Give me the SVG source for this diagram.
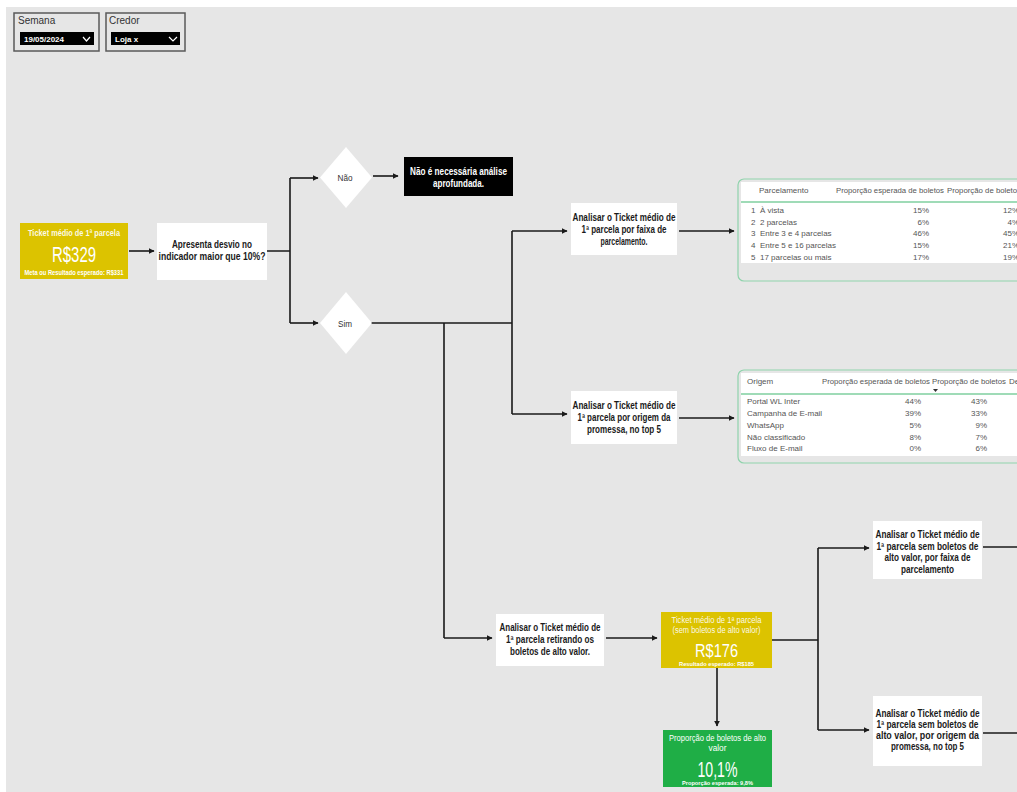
<svg xmlns="http://www.w3.org/2000/svg" width="1017" height="792" viewBox="0 0 1017 792">
<defs>
<marker id="ah" viewBox="0 0 10 10" refX="9" refY="5" markerWidth="6" markerHeight="6" orient="auto" markerUnits="userSpaceOnUse">
<path d="M0,0 L10,5 L0,10 z" fill="#1a1a1a"/>
</marker>
<style>
text{font-family:"Liberation Sans",Arial,sans-serif;}
.b{font-weight:bold;font-size:10px;fill:#1a1a1a;text-anchor:middle;}
.wb{font-weight:bold;font-size:10px;fill:#ffffff;text-anchor:middle;}
.k{fill:#ffffff;text-anchor:middle;}
.ln{stroke:#1a1a1a;stroke-width:1.6;fill:none;}
.tb{font-size:8px;fill:#555;}
.r{text-anchor:end;}
.box{fill:#ffffff;}
</style>
</defs>
<rect x="0" y="0" width="1017" height="792" fill="#ffffff"/>
<rect x="6" y="7" width="1011" height="785" fill="#e6e6e6"/>

<g id="slicer-semana">
<rect x="14" y="13" width="85" height="38" fill="#e6e6e6" stroke="#5a5a5a" stroke-width="1.5"/>
<text x="18" y="24" font-size="10" fill="#333">Semana</text>
<rect x="20" y="32" width="74" height="13" fill="#000"/>
<text x="24" y="42" font-size="8" font-weight="bold" fill="#fff" textLength="40" lengthAdjust="spacingAndGlyphs">19/05/2024</text>
<path d="M83,37 L86.5,41 L90,37" stroke="#fff" stroke-width="1.2" fill="none"/>
</g>
<g id="slicer-credor">
<rect x="106" y="13" width="79" height="38" fill="#e6e6e6" stroke="#5a5a5a" stroke-width="1.5"/>
<text x="109" y="24" font-size="10" fill="#333">Credor</text>
<rect x="111" y="32" width="69" height="13" fill="#000"/>
<text x="115" y="42" font-size="8" font-weight="bold" fill="#fff">Loja x</text>
<path d="M169,37 L173,41 L177,37" stroke="#fff" stroke-width="1.2" fill="none"/>
</g>

<g id="connectors">
<path class="ln" d="M129,251 L154,251" marker-end="url(#ah)"/>
<path class="ln" d="M267,251 L290,251 M290,178 L290,323"/>
<path class="ln" d="M290,178 L318,178" marker-end="url(#ah)"/>
<path class="ln" d="M290,323 L318,323" marker-end="url(#ah)"/>
<path class="ln" d="M373,176 L398,176" marker-end="url(#ah)"/>
<path class="ln" d="M371,323 L512,323 M512,231 L512,414 M444,323 L444,638"/>
<path class="ln" d="M512,231 L567,231" marker-end="url(#ah)"/>
<path class="ln" d="M512,414 L567,414" marker-end="url(#ah)"/>
<path class="ln" d="M679,231 L734,231" marker-end="url(#ah)"/>
<path class="ln" d="M679,418 L734,418" marker-end="url(#ah)"/>
<path class="ln" d="M444,638 L492,638" marker-end="url(#ah)"/>
<path class="ln" d="M606,638 L657,638" marker-end="url(#ah)"/>
<path class="ln" d="M772,640 L818,640 M818,548 L818,730"/>
<path class="ln" d="M818,548 L869,548" marker-end="url(#ah)"/>
<path class="ln" d="M818,730 L869,730" marker-end="url(#ah)"/>
<path class="ln" d="M717,668 L717,726" marker-end="url(#ah)"/>
<path class="ln" d="M983,547 L1017,547"/>
<path class="ln" d="M983,733 L1017,733"/>
</g>

<g id="kpi-ticket">
<rect x="20" y="223" width="108" height="56" fill="#dcc300"/>
<text class="k" x="74" y="236" font-size="9.5" font-weight="bold" fill-opacity="0.92" textLength="92" lengthAdjust="spacingAndGlyphs">Ticket médio de 1ª parcela</text>
<text class="k" x="74" y="262" font-size="22" textLength="44" lengthAdjust="spacingAndGlyphs">R$329</text>
<text class="k" x="74" y="275" font-size="6.5" font-weight="bold" textLength="99" lengthAdjust="spacingAndGlyphs">Meta ou Resultado esperado: R$331</text>
</g>

<g id="q-desvio">
<rect class="box" x="157" y="223" width="110" height="57"/>
<text class="b" x="212" y="248" textLength="80" lengthAdjust="spacingAndGlyphs">Apresenta desvio no</text>
<text class="b" x="212" y="260" textLength="107" lengthAdjust="spacingAndGlyphs">indicador maior que 10%?</text>
</g>

<g id="d-nao">
<path d="M346,147 L372,177.5 L346,208 L320,177.5 z" fill="#ffffff"/>
<text x="345" y="181" font-size="9" fill="#333" text-anchor="middle" textLength="15" lengthAdjust="spacingAndGlyphs">Não</text>
</g>
<g id="d-sim">
<path d="M346,292 L372,323 L346,354 L320,323 z" fill="#ffffff"/>
<text x="345" y="327" font-size="9" fill="#333" text-anchor="middle" textLength="14" lengthAdjust="spacingAndGlyphs">Sim</text>
</g>

<g id="n-nao-analise">
<rect x="404" y="157" width="109" height="39" fill="#000"/>
<text class="wb" x="458.5" y="175" textLength="97" lengthAdjust="spacingAndGlyphs">Não é necessária análise</text>
<text class="wb" x="458.5" y="187" textLength="51" lengthAdjust="spacingAndGlyphs">aprofundada.</text>
</g>

<g id="n-faixa">
<rect class="box" x="571" y="203" width="106" height="52"/>
<text class="b" x="624" y="221" textLength="103" lengthAdjust="spacingAndGlyphs">Analisar o Ticket médio de</text>
<text class="b" x="624" y="233" textLength="85" lengthAdjust="spacingAndGlyphs">1ª parcela por faixa de</text>
<text class="b" x="624" y="245" textLength="47" lengthAdjust="spacingAndGlyphs">parcelamento.</text>
</g>

<g id="n-origem">
<rect class="box" x="571" y="391" width="106" height="53"/>
<text class="b" x="624" y="408.5" textLength="103" lengthAdjust="spacingAndGlyphs">Analisar o Ticket médio de</text>
<text class="b" x="624" y="420.5" textLength="93" lengthAdjust="spacingAndGlyphs">1ª parcela por origem da</text>
<text class="b" x="624" y="432.5" textLength="74" lengthAdjust="spacingAndGlyphs">promessa, no top 5</text>
</g>

<g id="table-parcelamento">
<rect x="738" y="179" width="290" height="102" rx="6" fill="#e6e6e6" stroke="#8fd3ac" stroke-width="1.2"/>
<rect x="741" y="182" width="276" height="81" fill="#ffffff"/>
<line x1="741" y1="202" x2="1017" y2="202" stroke="#7fcf9f" stroke-width="1.5"/>
<text class="tb" x="759" y="193">Parcelamento</text>
<text class="tb" x="836" y="193" textLength="108" lengthAdjust="spacingAndGlyphs">Proporção esperada de boletos</text>
<text class="tb" x="947" y="193" textLength="74" lengthAdjust="spacingAndGlyphs">Proporção de boletos</text>
<text class="tb" x="751" y="213">1</text><text class="tb" x="760" y="213">À vista</text><text class="tb r" x="929" y="213">15%</text><text class="tb r" x="1019" y="213">12%</text>
<text class="tb" x="751" y="225">2</text><text class="tb" x="760" y="225">2 parcelas</text><text class="tb r" x="929" y="225">6%</text><text class="tb r" x="1019" y="225">4%</text>
<text class="tb" x="751" y="236">3</text><text class="tb" x="760" y="236">Entre 3 e 4 parcelas</text><text class="tb r" x="929" y="236">46%</text><text class="tb r" x="1019" y="236">45%</text>
<text class="tb" x="751" y="248">4</text><text class="tb" x="760" y="248">Entre 5 e 16 parcelas</text><text class="tb r" x="929" y="248">15%</text><text class="tb r" x="1019" y="248">21%</text>
<text class="tb" x="751" y="260">5</text><text class="tb" x="760" y="260">17 parcelas ou mais</text><text class="tb r" x="929" y="260">17%</text><text class="tb r" x="1019" y="260">19%</text>
</g>

<g id="table-origem">
<rect x="738" y="370" width="290" height="93" rx="6" fill="#e6e6e6" stroke="#8fd3ac" stroke-width="1.2"/>
<rect x="741" y="373" width="276" height="83" fill="#ffffff"/>
<line x1="741" y1="394" x2="1017" y2="394" stroke="#7fcf9f" stroke-width="1.5"/>
<text class="tb" x="747" y="384">Origem</text>
<text class="tb" x="822" y="384" textLength="108" lengthAdjust="spacingAndGlyphs">Proporção esperada de boletos</text>
<text class="tb" x="932" y="384" textLength="74" lengthAdjust="spacingAndGlyphs">Proporção de boletos</text>
<text class="tb" x="1009" y="384">De</text>
<path d="M933,389 L938,389 L935.5,392 z" fill="#333"/>
<text class="tb" x="747" y="404">Portal WL Inter</text><text class="tb r" x="921" y="404">44%</text><text class="tb r" x="987" y="404">43%</text>
<text class="tb" x="747" y="416">Campanha de E-mail</text><text class="tb r" x="921" y="416">39%</text><text class="tb r" x="987" y="416">33%</text>
<text class="tb" x="747" y="428">WhatsApp</text><text class="tb r" x="921" y="428">5%</text><text class="tb r" x="987" y="428">9%</text>
<text class="tb" x="747" y="440">Não classificado</text><text class="tb r" x="921" y="440">8%</text><text class="tb r" x="987" y="440">7%</text>
<text class="tb" x="747" y="451">Fluxo de E-mail</text><text class="tb r" x="921" y="451">0%</text><text class="tb r" x="987" y="451">6%</text>
</g>

<g id="n-retirando">
<rect class="box" x="496" y="614" width="108" height="52"/>
<text class="b" x="550" y="630.5" textLength="101" lengthAdjust="spacingAndGlyphs">Analisar o Ticket médio de</text>
<text class="b" x="550" y="642.5" textLength="88" lengthAdjust="spacingAndGlyphs">1ª parcela retirando os</text>
<text class="b" x="550" y="654.5" textLength="80" lengthAdjust="spacingAndGlyphs">boletos de alto valor.</text>
</g>

<g id="kpi-ticket-sem">
<rect x="661" y="612" width="111" height="56" fill="#dcc300"/>
<text class="k" x="716.5" y="623" font-size="8.5" fill-opacity="0.92" textLength="90" lengthAdjust="spacingAndGlyphs">Ticket médio de 1ª parcela</text>
<text class="k" x="716.5" y="633" font-size="8.5" fill-opacity="0.92" textLength="88" lengthAdjust="spacingAndGlyphs">(sem boletos de alto valor)</text>
<text class="k" x="716.5" y="657" font-size="19" textLength="43" lengthAdjust="spacingAndGlyphs">R$176</text>
<text class="k" x="716.5" y="666" font-size="6" font-weight="bold" textLength="75" lengthAdjust="spacingAndGlyphs">Resultado esperado: R$185</text>
</g>

<g id="kpi-alto-valor">
<rect x="663" y="730" width="109" height="57" fill="#1fae46"/>
<text class="k" x="717.5" y="741" font-size="9" textLength="97" lengthAdjust="spacingAndGlyphs">Proporção de boletos de alto</text>
<text class="k" x="717.5" y="751" font-size="9" textLength="18" lengthAdjust="spacingAndGlyphs">valor</text>
<text class="k" x="717.5" y="777" font-size="22" textLength="40" lengthAdjust="spacingAndGlyphs">10,1%</text>
<text class="k" x="717.5" y="785" font-size="6" font-weight="bold" textLength="71" lengthAdjust="spacingAndGlyphs">Proporção esperada: 9,8%</text>
</g>

<g id="n-sem-faixa">
<rect class="box" x="873" y="521" width="109" height="58"/>
<text class="b" x="927.5" y="538" textLength="104" lengthAdjust="spacingAndGlyphs">Analisar o Ticket médio de</text>
<text class="b" x="927.5" y="549.5" textLength="102" lengthAdjust="spacingAndGlyphs">1ª parcela sem boletos de</text>
<text class="b" x="927.5" y="561" textLength="86" lengthAdjust="spacingAndGlyphs">alto valor, por faixa de</text>
<text class="b" x="927.5" y="572.5" textLength="53" lengthAdjust="spacingAndGlyphs">parcelamento</text>
</g>

<g id="n-sem-origem">
<rect class="box" x="873" y="696" width="109" height="70"/>
<text class="b" x="927.5" y="716.5" textLength="104" lengthAdjust="spacingAndGlyphs">Analisar o Ticket médio de</text>
<text class="b" x="927.5" y="727.5" textLength="102" lengthAdjust="spacingAndGlyphs">1ª parcela sem boletos de</text>
<text class="b" x="927.5" y="738.5" textLength="103" lengthAdjust="spacingAndGlyphs">alto valor, por origem da</text>
<text class="b" x="927.5" y="749.5" textLength="73" lengthAdjust="spacingAndGlyphs">promessa, no top 5</text>
</g>
</svg>
